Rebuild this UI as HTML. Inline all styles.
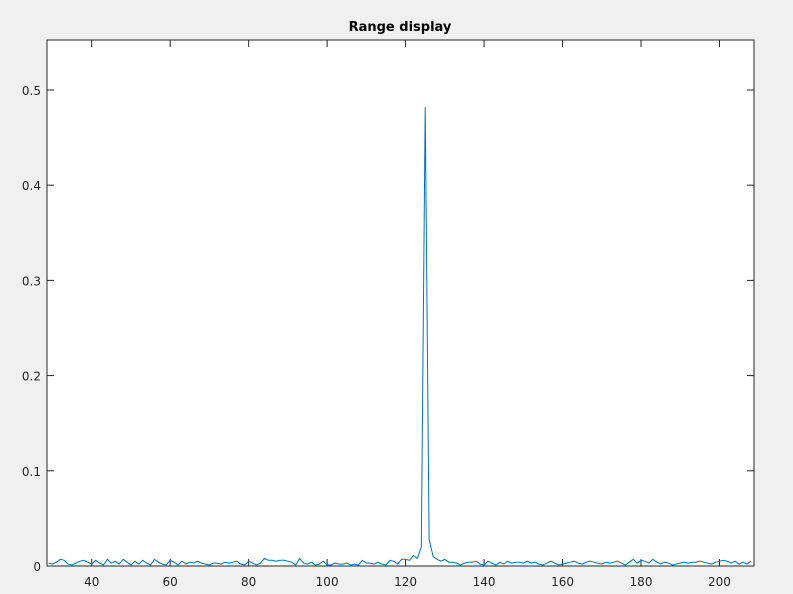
<!DOCTYPE html>
<html><head><meta charset="utf-8"><style>
body{margin:0;background:#f0f0f0;font-family:"DejaVu Sans","Liberation Sans",sans-serif;}
svg text{font-family:"DejaVu Sans","Liberation Sans",sans-serif;font-size:12px;fill:#262626}
</style></head><body>
<svg width="793" height="590">
<rect x="0" y="0" width="793" height="590" fill="#f0f0f0"/>
<rect x="47" y="40" width="707" height="526" fill="#fff" stroke="#262626" stroke-width="1"/>
<text x="400" y="31" text-anchor="middle" font-weight="bold" style="font-size:13px;fill:#000">Range display</text>
<g id="axes"></g>
<polyline id="series" fill="none" stroke="#0072bd" stroke-width="1"/>
</svg>
<script>
const xStart = 29;
const values = [0.003,0.002,0.004,0.007,0.006,0.002,0.001,0.003,0.005,0.006,0.004,0.002,0.006,0.003,0.001,0.007,0.003,0.005,0.002,0.007,0.004,0.001,0.005,0.002,0.006,0.003,0.001,0.007,0.004,0.002,
0.001,0.006,0.004,0.001,0.005,0.002,0.004,0.003,0.005,0.003,0.002,0.001,0.003,0.003,0.002,0.004,0.003,0.004,0.005,0.002,0.001,0.005,0.003,0.001,0.003,0.008,0.006,0.006,0.005,0.006,
0.006,0.005,0.004,0.001,0.008,0.003,0.002,0.004,0.001,0.002,0.005,0.001,0.001,0.003,0.002,0.002,0.003,0.001,0.002,0.001,0.006,0.003,0.003,0.002,0.004,0.002,0.001,0.006,0.005,0.002,
0.007,0.007,0.006,0.011,0.008,0.020,0.482,0.028,0.010,0.007,0.005,0.007,0.004,0.004,0.003,0.001,0.003,0.004,0.004,0.005,0.002,0.001,0.005,0.003,0.001,0.004,0.002,0.005,0.003,0.004,
0.004,0.003,0.005,0.003,0.004,0.002,0.001,0.003,0.005,0.003,0.001,0.002,0.003,0.004,0.005,0.003,0.002,0.004,0.005,0.004,0.003,0.002,0.004,0.003,0.004,0.005,0.003,0.001,0.004,0.007,
0.003,0.006,0.005,0.003,0.007,0.004,0.002,0.004,0.003,0.001,0.002,0.003,0.004,0.003,0.004,0.004,0.005,0.004,0.003,0.002,0.004,0.005,0.006,0.005,0.003,0.005,0.002,0.004,0.002,0.005];
const xTicks = [40,60,80,100,120,140,160,180,200];
const yTicks = [0,0.1,0.2,0.3,0.4,0.5];
const yTickLabels = ["0","0.1","0.2","0.3","0.4","0.5"];
const X0=47,X1=754,Y0=566,Y1=40, xmin=28.6, xmax=208.8, ymin=0, ymax=0.5525;
function sx(v){return X0+(v-xmin)/(xmax-xmin)*(X1-X0);}
function sy(v){return Y0-(v-ymin)/(ymax-ymin)*(Y0-Y1);}
const NS="http://www.w3.org/2000/svg";
const g=document.getElementById('axes');
function mk(t,a){const e=document.createElementNS(NS,t);for(const k in a)e.setAttribute(k,a[k]);g.appendChild(e);return e;}
xTicks.forEach(v=>{
  const x=sx(v);
  const t1=mk('line',{x1:x,x2:x,y1:Y0,y2:Y0-7,stroke:'#262626'});
  
  
  const t2=mk('line',{x1:x,x2:x,y1:Y1,y2:Y1+7,stroke:'#262626'});
  
  
  const l=mk('text',{x:x,y:Y0+20,'text-anchor':'middle'});l.textContent=v;
  
  
});
yTicks.forEach((v,i)=>{
  const y=sy(v);
  const t1=mk('line',{x1:X0,x2:X0+7,y1:y,y2:y,stroke:'#262626'});
  
  
  const t2=mk('line',{x1:X1,x2:X1-7,y1:y,y2:y,stroke:'#262626'});
  
  
  const l=mk('text',{x:X0-6,y:y+5,'text-anchor':'end'});l.textContent=yTickLabels[i];
  
  
});
document.getElementById('series').setAttribute('points',values.map((v,i)=>sx(xStart+i).toFixed(1)+','+sy(v).toFixed(1)).join(' '));
</script>
</body></html>
